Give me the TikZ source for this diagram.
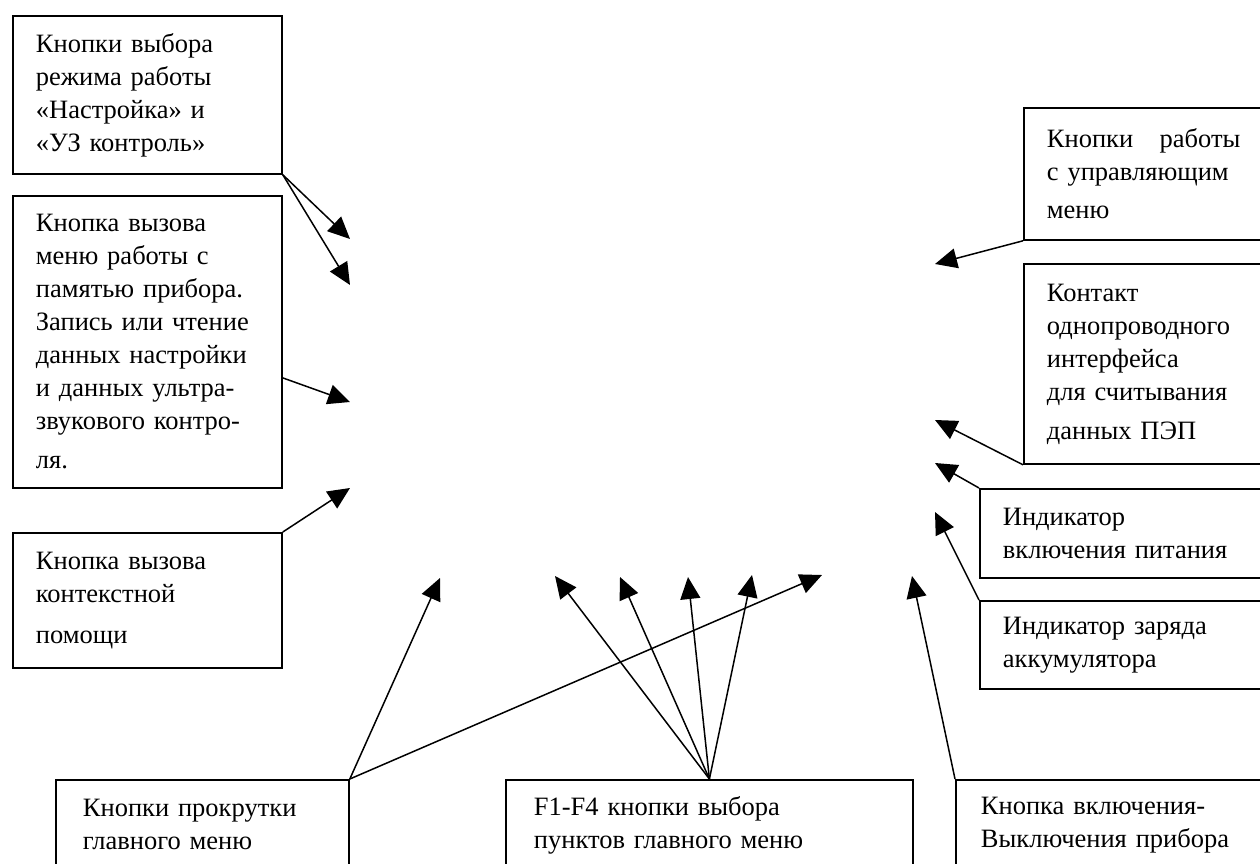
\documentclass[tikz,border=0pt]{standalone}
\usepackage{fontspec}
\setmainfont{Liberation Serif}
\usetikzlibrary{arrows.meta, positioning, calc}

\begin{document}
\begin{tikzpicture}[x=1pt, y=-1pt,
    % Define node styles that set text width and font size.
    box/.style={
      rectangle, draw=black, line width=1.8pt, fill=white,
      anchor=north west, align=left, inner xsep=23pt,
      font=\fontsize{26.5}{33}\selectfont
    },
    arrow/.style={line width=1.5pt, -{Triangle[length=22pt, width=20pt]}}
]

\useasboundingbox (0,0) rectangle (1260,864);
\clip (0,0) rectangle (1260,864);

% Node 1: mode buttons
\node [box, text width=223pt, minimum height=158pt] (modes) at (12,15) {%
  Кнопки выбора\\ режима работы\\ «Настройка» и\\ «УЗ контроль»};

% Node 2: memory menu button
\node [box, text width=223pt, minimum height=292pt] (memory) at (12,195) {%
  Кнопка вызова\\ меню работы с\\ памятью прибора.\\ Запись или чтение\\
  данных настройки\\ и данных ультра-\\ звукового контро-\\[6pt] ля.};

% Node 3: context help button
\node [box, text width=223pt, minimum height=135pt] (help) at (12,532) {%
  Кнопка вызова\\ контекстной\\[8pt] помощи};

% Node 4: control menu buttons (right side, cut by the edge)
\node [box, text width=200pt, minimum height=132pt] (menukeys) at (1023,107) {%
  Кнопки \ \ работы\\ с управляющим\\[5pt] меню};

% Node 5: one-wire interface contact
\node [box, text width=200pt, minimum height=200pt] (contact) at (1023,263) {%
  Контакт\\ однопроводного\\ интерфейса\\ для считывания\\[6pt] данных ПЭП};

% Node 6: power indicator
\node [box, text width=250pt, minimum height=89pt] (power) at (979,488) {%
  Индикатор\\ включения питания};

% Node 7: battery indicator
\node [box, text width=250pt, minimum height=88pt] (charge) at (979,600) {%
  Индикатор заряда\\ аккумулятора};

% Node 8: scroll buttons (bottom, cut by the edge)
\node [box, inner xsep=27pt, text width=239pt, minimum height=90pt] (scroll) at (55,779) {%
  Кнопки прокрутки\\ главного меню};

% Node 9: F1-F4 buttons
\node [box, inner xsep=28pt, text width=351pt, minimum height=90pt] (fkeys) at (505,779) {%
  F1-F4 кнопки выбора\\ пунктов главного меню};

% Node 10: on/off button
\node [box, inner xsep=25pt, text width=300pt, minimum height=90pt] (onoff) at (955,779) {%
  Кнопка включения-\\ Выключения прибора};

% Arrow tips on the (empty) device panel
\coordinate (m1) at (350,239);
\coordinate (m2) at (350,285);
\coordinate (mem) at (350,402);
\coordinate (hlp) at (350,488);
\coordinate (s1) at (440,578);
\coordinate (s2) at (822,575);
\coordinate (f1) at (555,576);
\coordinate (f2) at (620,577);
\coordinate (f3) at (688,577);
\coordinate (f4) at (752,575);
\coordinate (pw) at (912,576);
\coordinate (mk) at (935,264);
\coordinate (ct) at (935,420);
\coordinate (pi) at (935,463);
\coordinate (ci) at (935,512);

% Draw arrows connecting the nodes
\draw [arrow] (modes.south east) -- (m1);
\draw [arrow] (modes.south east) -- (m2);
\draw [arrow] ([yshift=-36pt]memory.east) -- (mem);
\draw [arrow] (help.north east) -- (hlp);
\draw [arrow] (scroll.north east) -- (s1);
\draw [arrow] (scroll.north east) -- (s2);
\draw [arrow] (fkeys.north) -- (f1);
\draw [arrow] (fkeys.north) -- (f2);
\draw [arrow] (fkeys.north) -- (f3);
\draw [arrow] (fkeys.north) -- (f4);
\draw [arrow] (onoff.north west) -- (pw);
\draw [arrow] (menukeys.south west) -- (mk);
\draw [arrow] (contact.south west) -- (ct);
\draw [arrow] (power.north west) -- (pi);
\draw [arrow] (charge.north west) -- (ci);

\end{tikzpicture}
\end{document}
